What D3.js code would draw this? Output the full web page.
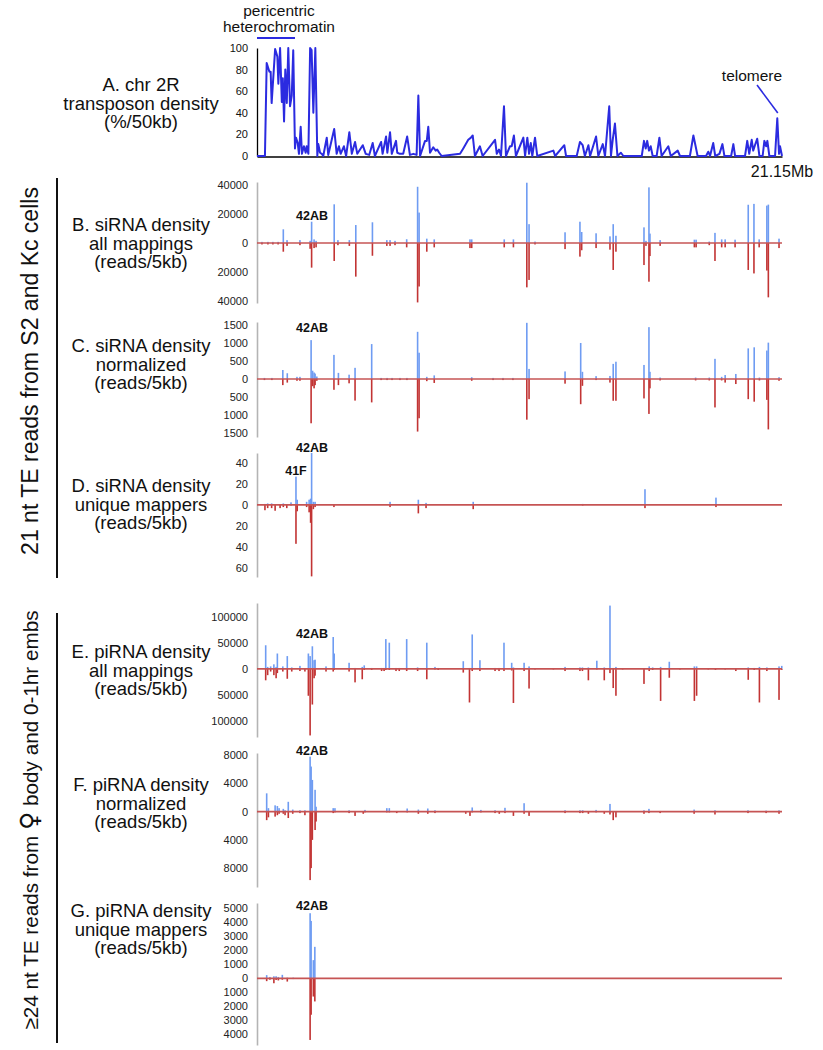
<!DOCTYPE html>
<html><head><meta charset="utf-8">
<script src="https://cdn.jsdelivr.net/npm/d3@7"></script>
<style>
body{margin:0;background:#fff}
svg{display:block}
text{font-family:"Liberation Sans",Arial,Helvetica,sans-serif}
</style>
</head><body>
<svg id="chart" width="823" height="1050"></svg>
<script>
// ---------------- DATA ----------------
const chromLengthMb = 21.15;
const chromEndLabel = "21.15Mb";

// A. transposon density on chr 2R (% per 50kb), [position Mb, %]
const teDensity = [
[0.00,0],[0.32,0],[0.39,86],[0.50,78],[0.55,78],[0.59,49],[0.73,99],[0.82,92],[0.86,67],[0.93,100],[1.00,50],[1.04,72],[1.09,32],[1.14,80],[1.20,49],[1.26,100],[1.33,46],[1.40,56],[1.46,98],[1.53,7],[1.57,17],[1.64,12],[1.69,2],[1.76,27],[1.81,2],[1.89,9],[1.96,3],[2.00,9],[2.07,2],[2.14,100],[2.20,98],[2.27,40],[2.35,100],[2.43,0],[2.47,11],[2.54,3],[2.61,2],[2.67,0],[2.81,17],[2.87,1],[3.11,25],[3.21,2],[3.30,9],[3.37,2],[3.50,9],[3.59,0],[3.72,22],[3.82,2],[3.95,13],[4.04,2],[4.26,10],[4.38,2],[4.52,1],[4.66,12],[4.75,0],[5.00,13],[5.06,2],[5.20,18],[5.25,3],[5.36,22],[5.43,2],[5.60,14],[5.65,3],[5.76,2],[5.89,2],[6.05,18],[6.16,1],[6.30,2],[6.43,1],[6.50,56],[6.57,0],[6.77,14],[6.84,14],[6.90,27],[6.97,3],[7.10,8],[7.20,5],[7.26,6],[7.34,3],[7.44,0],[8.18,2],[8.31,7],[8.51,15],[8.62,17],[8.69,19],[8.78,0],[8.98,9],[9.09,0],[9.59,15],[9.66,2],[9.75,6],[9.83,0],[9.95,46],[10.03,0],[10.19,9],[10.26,9],[10.35,19],[10.43,0],[10.73,17],[10.80,0],[10.89,17],[10.96,2],[11.03,12],[11.09,0],[11.20,17],[11.29,0],[11.94,5],[12.01,0],[12.38,10],[12.45,0],[12.88,0],[13.01,13],[13.12,10],[13.21,0],[13.35,10],[13.42,0],[13.66,18],[13.75,0],[13.93,11],[14.02,0],[14.19,46],[14.26,0],[14.33,15],[14.42,30],[14.52,0],[14.66,3],[14.76,0],[15.50,0],[15.59,14],[15.66,7],[15.72,14],[15.79,5],[15.86,9],[15.94,0],[16.10,0],[16.21,17],[16.30,0],[16.57,9],[16.67,0],[16.95,5],[17.04,0],[17.44,0],[17.58,19],[17.67,9],[17.75,0],[18.09,0],[18.18,4],[18.25,0],[18.38,12],[18.46,0],[18.63,2],[18.75,11],[18.83,0],[19.10,0],[19.19,11],[19.26,0],[19.66,0],[19.75,14],[19.83,2],[19.93,15],[19.99,5],[20.06,10],[20.15,16],[20.24,0],[20.37,0],[20.44,14],[20.51,9],[20.56,14],[20.64,0],[20.87,0],[20.96,35],[21.03,2],[21.07,9],[21.15,0]
];
const teTicks = [0,20,40,60,80,100];
const pericentricMb = [0, 1.53];
const telomereMb = 20.96;

// Read densities per 5kb: [position Mb, plus strand (up), minus strand (down)]
const siAllMappings = [
[0.20,800,1000],[0.44,800,1000],[0.64,800,1000],[0.85,800,1000],
[1.06,9450,6000],[1.21,2000,2000],[1.73,2000,1500],[2.14,1500,4000],[2.20,14700,17000],[2.30,2500,3500],[2.38,1500,3000],
[3.11,26700,12400],[3.26,2000,1500],[3.72,2000,2000],[3.98,12400,23200],[4.65,14300,8800],[5.23,2000,2000],[5.36,2000,2000],[5.56,1500,1500],
[6.03,2600,3000],[6.47,38800,41000],[6.53,21000,30000],[6.84,3000,6000],[7.14,2500,3000],[8.58,2500,3500],[8.65,2500,3500],
[9.96,2500,3000],[10.33,2500,3000],[10.87,41600,30600],[10.96,13000,25500],[11.20,1000,1000],[12.41,7400,4200],
[13.01,14700,9400],[13.08,7600,5000],[13.66,6700,3500],[14.22,4600,4600],[14.35,13000,18600],[14.46,5000,6000],
[15.59,10800,15200],[15.67,1500,2000],[15.79,38400,26700],[15.83,6500,9000],[16.24,2000,2000],[17.62,2300,3000],[17.69,2300,3000],
[18.22,1000,1500],[18.45,7000,12400],[18.72,2500,3000],[18.86,2500,3000],[19.26,2300,3000],[19.79,26400,18600],[20.02,27000,21000],
[20.23,2500,3000],[20.54,25800,19000],[20.60,26500,37500],[21.03,3000,3500]
];
const siNormalized = [
[0.30,30,30],[0.60,30,30],
[1.04,250,170],[1.22,160,100],[1.61,60,50],[1.73,60,50],[2.18,1080,1230],[2.24,230,200],[2.30,180,260],[2.34,150,170],[2.41,70,50],
[3.10,670,300],[3.28,170,170],[3.71,120,120],[3.95,310,600],[4.62,970,650],[5.00,30,30],[5.24,30,30],[5.44,30,30],[5.76,30,30],[6.04,30,30],
[6.47,1310,1460],[6.53,730,1090],[6.84,60,60],[7.14,100,110],[8.65,50,50],[9.51,30,30],[9.91,30,30],[10.31,30,30],
[10.87,1560,1130],[10.96,280,560],[12.41,210,130],[13.04,1000,700],[13.11,200,190],[13.66,80,30],[14.22,85,100],[14.35,420,605],[14.46,480,605],
[15.59,390,540],[15.79,1440,970],[15.83,200,260],[16.24,40,40],[17.67,40,40],[18.22,40,40],[18.45,560,790],[18.72,60,40],[18.86,110,100],
[19.29,140,140],[19.79,850,560],[20.03,880,630],[20.24,40,40],[20.54,790,580],[20.60,1010,1400],[21.03,50,50]
];
const siUnique = [
[0.32,1,5],[0.43,1.5,3],[0.59,1.5,3],[0.73,0.5,5.5],[0.93,0.5,3],[1.06,1.5,2],[1.20,0.5,3],[1.37,2.5,0.5],
[1.57,27,37],[1.62,5,6],[2.00,3,2],[2.10,5,7],[2.16,6,17],[2.20,49.5,68],[2.27,3,4],[2.34,3,2],[3.10,0.5,2],
[5.36,3,2],[6.50,5,8],[6.81,2,3],[8.71,3,4],[13.12,1,0.5],[15.63,15,3],[18.49,7,2]
];
const piAllMappings = [
[0.35,46000,22000],[0.43,4000,12000],[0.55,5000,5000],[0.68,9000,12000],[0.77,4000,18000],[0.82,30000,8000],[1.04,5000,5000],
[1.22,25000,19000],[1.40,3000,5000],[1.73,6000,4000],[1.93,1000,5000],[2.07,30000,52000],[2.14,25000,129000],[2.23,44000,69000],
[2.30,17000,18000],[2.34,18000,13000],[2.78,5000,5000],[3.07,62000,5000],[3.11,30000,2000],[3.71,12000,5000],[3.95,2000,26000],
[4.24,4000,20000],[4.32,7000,2000],[4.62,2000,2000],[5.02,2000,4000],[5.12,2000,4000],[5.19,58000,2000],[5.33,51000,2000],
[5.60,2000,4000],[5.73,2000,4000],[6.03,58000,4000],[6.47,3000,4000],[6.84,51000,20000],[7.17,4000,1000],[7.30,2000,2000],
[8.31,15000,7000],[8.56,2000,65000],[8.67,67000,4000],[8.98,17000,4000],[9.59,2000,4000],[9.75,2000,4000],[9.95,51000,4000],
[10.26,12000,3000],[10.33,3000,66000],[10.76,12000,4000],[10.96,5000,38000],[11.20,1000,1000],[11.94,1000,1000],[12.41,4000,4000],
[13.01,3000,4000],[13.11,3000,4000],[13.35,3000,22000],[13.69,16000,1000],[13.99,3000,22000],[14.22,123000,8000],[14.35,2000,37000],
[14.46,4000,52000],[14.73,1000,1000],[15.59,1000,29000],[15.80,5000,4000],[15.94,3000,2000],[16.26,4000,62000],[16.61,14000,17000],
[17.04,1000,1000],[17.62,5000,62000],[17.71,5000,52000],[18.18,1000,1000],[18.47,1000,2000],[18.86,1000,1000],[19.29,1000,4000],
[19.79,3000,21000],[20.03,2000,2000],[20.24,4000,65000],[20.54,3000,4000],[21.03,5000,60000],[21.14,6000,2000]
];
const piNormalized = [
[0.39,2600,1200],[0.46,500,800],[0.73,900,700],[0.82,800,500],[0.89,500,300],[1.06,400,300],[1.13,200,500],[1.26,1400,900],
[1.44,300,300],[1.73,200,200],[1.93,200,500],[2.14,7800,9700],[2.18,6400,8000],[2.23,4500,4000],[2.34,3100,2600],[2.38,700,1400],
[3.07,500,200],[3.14,500,100],[3.71,200,200],[3.95,100,600],[4.28,100,300],[4.35,250,100],[5.23,500,100],[5.33,500,100],
[5.63,100,200],[6.05,450,100],[6.50,300,300],[6.88,450,300],[7.17,200,200],[8.41,100,300],[8.58,100,600],[8.67,600,100],
[9.02,250,100],[9.59,200,200],[9.76,100,300],[9.99,550,200],[10.33,100,600],[10.76,1200,300],[10.96,100,600],[12.41,200,200],
[13.01,200,200],[13.12,200,200],[13.35,100,300],[13.66,250,100],[13.99,100,300],[14.22,1100,400],[14.35,100,1200],[14.46,100,800],
[15.59,200,300],[15.79,400,200],[16.24,100,200],[17.61,300,300],[18.45,200,400],[19.78,200,200],[20.51,150,200],[21.03,200,300]
];
const piUnique = [
[0.39,230,200],[0.52,100,100],[0.68,150,350],[0.77,150,120],[0.86,100,150],[1.02,250,100],[1.22,50,230],[1.46,50,50],
[2.14,4650,4400],[2.18,4100,2600],[2.27,1300,1300],[2.33,2250,1650]
];

// axis extents and tick labels per panel
const siAllDomain = [-41400, 42100],  siAllTicks = [-40000,-20000,0,20000,40000];
const siNormDomain = [-1611, 1583],   siNormTicks = [-1500,-1000,-500,0,500,1000,1500];
const siUniqDomain = [-68.6, 49.5],   siUniqTicks = [-60,-40,-20,0,20,40];
const piAllDomain = [-132000, 128000],piAllTicks = [-100000,-50000,0,50000,100000];
const piNormDomain = [-10680, 8320],  piNormTicks = [-8000,-4000,0,4000,8000];
const piUniqDomain = [-4760, 5380],   piUniqTicks = [-4000,-3000,-2000,-1000,0,1000,2000,3000,4000,5000];

const locus42AB = 2.22, locus41F = 1.57;

const groupLabel1 = "21 nt TE reads from S2 and Kc cells";

// ---------------- LAYOUT ----------------
const svg = d3.select("#chart");
const X0 = 257, X1 = 782, LABEL_X = 141;
const BLUE = "#6f9cf2", RED = "#c23434", LINE_BLUE = "#2b2be0";
const x = d3.scaleLinear().domain([0, chromLengthMb]).range([X0, X1]);

function multiline(lines, baselines, cx, size) {
  const t = svg.append("text").attr("text-anchor","middle").attr("font-size",size).attr("fill","#111");
  lines.forEach((l,i)=> t.append("tspan").attr("x",cx).attr("y",baselines[i]).text(l));
}

// ---- Panel A ----
const yA = d3.scaleLinear().domain([0,100]).range([156,48]);
svg.append("g").attr("transform",`translate(${X0},0)`)
  .call(d3.axisLeft(yA).tickValues(teTicks).tickSize(0).tickPadding(9).tickSizeOuter(0))
  .call(g=>{g.select(".domain").attr("stroke","#000").attr("stroke-width",1.3);
            g.selectAll("text").attr("font-size",11).attr("fill","#111").attr("font-family","Liberation Sans, Arial");});
svg.append("g").attr("transform",`translate(0,${yA(0)+0.5})`)
  .call(d3.axisBottom(x).tickValues([]).tickSizeOuter(0))
  .call(g=>g.select(".domain").attr("stroke","#000").attr("stroke-width",1.3));
svg.append("path").datum(teDensity)
  .attr("d", d3.line().x(d=>x(d[0])).y(d=>yA(d[1])))
  .attr("fill","none").attr("stroke",LINE_BLUE).attr("stroke-width",2).attr("stroke-linejoin","round");
svg.append("line").attr("x1",x(pericentricMb[0])).attr("x2",x(pericentricMb[1]))
  .attr("y1",38).attr("y2",38).attr("stroke",LINE_BLUE).attr("stroke-width",2);
multiline(["pericentric","heterochromatin"],[16,31.5],(x(pericentricMb[0])+x(pericentricMb[1]))/2+3,15.5);
svg.append("text").attr("x",752).attr("y",81).attr("text-anchor","middle").attr("font-size",15.5).attr("fill","#111").text("telomere");
svg.append("line").attr("x1",757).attr("y1",85).attr("x2",x(telomereMb)+0.5).attr("y2",113)
  .attr("stroke",LINE_BLUE).attr("stroke-width",1.6);
svg.append("text").attr("x",x(chromLengthMb)).attr("y",177).attr("text-anchor","middle").attr("font-size",16).attr("fill","#111").text(chromEndLabel);
multiline(["A. chr 2R","transposon density","(%/50kb)"],[91,109.5,128],LABEL_X,18.5);

// ---- density panels ----
const panels = [
  {data:siAllMappings, domain:siAllDomain, ticks:siAllTicks, range:[303,182],
   label:["B. siRNA density","all mappings","(reads/5kb)"], labelY:[231,249.5,268], notes:[["42AB",locus42AB,220]]},
  {data:siNormalized, domain:siNormDomain, ticks:siNormTicks, range:[437,322],
   label:["C. siRNA density","normalized","(reads/5kb)"], labelY:[352,370.5,389], notes:[["42AB",locus42AB,332]]},
  {data:siUnique, domain:siUniqDomain, ticks:siUniqTicks, range:[577,453],
   label:["D. siRNA density","unique mappers","(reads/5kb)"], labelY:[492,510.5,529], notes:[["42AB",locus42AB,452],["41F",locus41F,475]]},
  {data:piAllMappings, domain:piAllDomain, ticks:piAllTicks, range:[737,603],
   label:["E. piRNA density","all mappings","(reads/5kb)"], labelY:[658,676.5,695], notes:[["42AB",locus42AB,638]]},
  {data:piNormalized, domain:piNormDomain, ticks:piNormTicks, range:[887,753],
   label:["F. piRNA density","normalized","(reads/5kb)"], labelY:[791,809.5,828], notes:[["42AB",locus42AB,755]]},
  {data:piUnique, domain:piUniqDomain, ticks:piUniqTicks, range:[1045,903],
   label:["G. piRNA density","unique mappers","(reads/5kb)"], labelY:[917,935.5,954], notes:[["42AB",locus42AB,910]]}
];

panels.forEach(p=>{
  const y = d3.scaleLinear().domain(p.domain).range(p.range);
  const g = svg.append("g");
  g.append("g").attr("transform",`translate(${X0},0)`)
    .call(d3.axisLeft(y).tickValues(p.ticks).tickSize(0).tickPadding(9).tickSizeOuter(0).tickFormat(d=>Math.abs(d)))
    .call(a=>{a.select(".domain").attr("stroke","#b4b4b4").attr("stroke-width",1.6);
              a.selectAll("text").attr("font-size",11).attr("fill","#222").attr("font-family","Liberation Sans, Arial");});
  const y0 = y(0);
  g.selectAll(".up").data(p.data).join("rect")
    .attr("x",d=>x(d[0])-0.8).attr("width",1.6)
    .attr("y",d=>y(d[1])).attr("height",d=>Math.max(0.5,y0-y(d[1])))
    .attr("fill",BLUE);
  g.selectAll(".dn").data(p.data).join("rect")
    .attr("x",d=>x(d[0])-0.8).attr("width",1.6)
    .attr("y",y0).attr("height",d=>Math.max(0.5,y(-d[2])-y0))
    .attr("fill",RED);
  g.append("line").attr("x1",X0).attr("x2",X1).attr("y1",y0).attr("y2",y0)
    .attr("stroke","#c65454").attr("stroke-width",1.7);
  p.notes.forEach(n=>{
    g.append("text").attr("x",x(n[1])).attr("y",n[2]).attr("text-anchor","middle")
      .attr("font-size",12.5).attr("font-weight","bold").attr("fill","#111").text(n[0]);
  });
  multiline(p.label,p.labelY,LABEL_X,18.5);
});

// ---- group brackets ----
svg.append("line").attr("x1",57).attr("x2",57).attr("y1",178).attr("y2",578).attr("stroke","#111").attr("stroke-width",2);
svg.append("line").attr("x1",57).attr("x2",57).attr("y1",613).attr("y2",1043).attr("stroke","#111").attr("stroke-width",2);
svg.append("text").attr("transform","translate(38,371) rotate(-90)").attr("text-anchor","middle")
  .attr("font-size",23).attr("fill","#111").text(groupLabel1);
const g2 = svg.append("text").attr("transform","translate(38,820) rotate(-90)").attr("text-anchor","middle")
  .attr("font-size",20.7).attr("fill","#111");
g2.append("tspan").text("≥24 nt TE reads from ");
g2.append("tspan").attr("font-family","DejaVu Sans").attr("font-size",25).text("♀");
g2.append("tspan").text(" body and 0-1hr embs");
</script>
</body></html>
